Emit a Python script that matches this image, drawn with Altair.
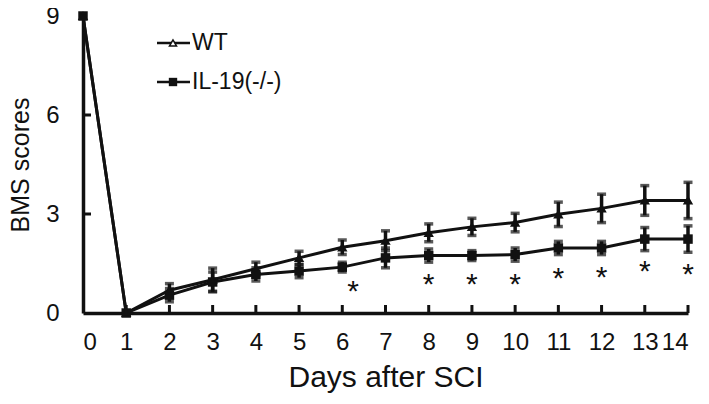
import altair as alt
import pandas as pd

days = list(range(15))
wt = [9, 0, 0.69, 1.01, 1.34, 1.67, 1.99, 2.19, 2.43, 2.61, 2.74, 2.99, 3.17, 3.41, 3.41]
wt_err = [0, 0, 0.2, 0.35, 0.2, 0.2, 0.22, 0.3, 0.27, 0.26, 0.28, 0.37, 0.43, 0.45, 0.55]
il = [9, 0, 0.54, 0.94, 1.17, 1.27, 1.39, 1.67, 1.74, 1.74, 1.77, 1.97, 1.97, 2.24, 2.24]
il_err = [0, 0, 0.2, 0.3, 0.2, 0.2, 0.15, 0.3, 0.2, 0.15, 0.2, 0.2, 0.2, 0.35, 0.4]
star_x = [6.25, 8, 9, 10, 11, 12, 13, 14]
star_y = [0.84, 1.05, 1.05, 1.05, 1.24, 1.27, 1.44, 1.37]
x_ticks = list(range(1, 15))
y_ticks = [3, 6]
legend_labels = ["WT", "IL-19(-/-)"]

FONT = "Liberation Sans"
INK = "#111111"

rows = []
for d, v, e in zip(days, wt, wt_err):
    rows.append({"day": d, "score": v, "lo": v - e, "hi": v + e, "group": "WT"})
for d, v, e in zip(days, il, il_err):
    rows.append({"day": d, "score": v, "lo": v - e, "hi": v + e, "group": "IL-19(-/-)"})
df = pd.DataFrame(rows)
err_df = df[df["hi"] > df["lo"]]

xs = alt.Scale(domain=[0, 14], nice=False, zero=False)
ys = alt.Scale(domain=[0, 9], nice=False)

X = alt.X("day:Q", scale=xs,
          axis=alt.Axis(values=days, format="d", ticks=False, grid=False,
                        domainColor=INK, domainWidth=3.5, labelFontSize=24,
                        labelFont=FONT, labelColor=INK, labelPadding=17,
                        title="Days after SCI", titleFontSize=30, titleFont=FONT,
                        titleFontWeight="normal", titleColor=INK, titlePadding=8))
Y = alt.Y("score:Q", scale=ys,
          axis=alt.Axis(values=[0, 3, 6, 9], ticks=False, grid=False,
                        domainColor=INK, domainWidth=3.5, labelFontSize=24,
                        labelFont=FONT, labelColor=INK, labelPadding=24,
                        title="BMS scores", titleFontSize=25, titleFont=FONT,
                        titleFontWeight="normal", titleColor=INK, titleX=-50))

base = alt.Chart(df)

lines = base.mark_line(color=INK, strokeWidth=3).encode(
    x=X, y=Y, detail="group:N")

err = alt.Chart(err_df).mark_rule(color=INK, strokeWidth=3.5).encode(
    x=alt.X("day:Q", scale=xs), y=alt.Y("lo:Q", scale=ys), y2="hi:Q")
cap_hi = alt.Chart(err_df).mark_tick(color=INK, thickness=3.5, size=9, orient="horizontal").encode(
    x=alt.X("day:Q", scale=xs), y=alt.Y("hi:Q", scale=ys))
cap_lo = alt.Chart(err_df).mark_tick(color=INK, thickness=3.5, size=9, orient="horizontal").encode(
    x=alt.X("day:Q", scale=xs), y=alt.Y("lo:Q", scale=ys))

pts_il = alt.Chart(df[df["group"] == "IL-19(-/-)"]).mark_point(
    shape="square", filled=True, color=INK, size=90, opacity=1).encode(
    x=alt.X("day:Q", scale=xs), y=alt.Y("score:Q", scale=ys))
pts_wt = alt.Chart(df[df["group"] == "WT"]).mark_point(
    shape="triangle-up", filled=True, fill=INK, stroke=INK, strokeWidth=1.5,
    size=60, opacity=1).encode(
    x=alt.X("day:Q", scale=xs), y=alt.Y("score:Q", scale=ys))

stars = alt.Chart(pd.DataFrame({"x": star_x, "y": star_y})).mark_text(
    text="*", font=FONT, fontSize=30, color=INK, baseline="middle", dy=7).encode(
    x=alt.X("x:Q", scale=xs), y=alt.Y("y:Q", scale=ys))

xt = alt.Chart(pd.DataFrame({"x": x_ticks})).mark_rule(color=INK, strokeWidth=3).encode(
    x=alt.X("x:Q", scale=xs), y=alt.value(297), y2=alt.value(289))
yt = alt.Chart(pd.DataFrame({"y": y_ticks})).mark_rule(color=INK, strokeWidth=3).encode(
    y=alt.Y("y:Q", scale=ys), x=alt.value(0), x2=alt.value(8))

# manual legend
leg_layers = []
for i, (lab, yy) in enumerate(zip(legend_labels, [27, 66])):
    one = pd.DataFrame({"label": [lab]})
    leg_layers.append(alt.Chart(one).mark_rule(color=INK, strokeWidth=2.5).encode(
        x=alt.value(74), x2=alt.value(107), y=alt.value(yy)))
    if i == 0:
        leg_layers.append(alt.Chart(one).mark_point(
            shape="triangle-up", filled=True, fill="white", stroke=INK, strokeWidth=1.5,
            size=50, opacity=1).encode(x=alt.value(90), y=alt.value(yy)))
    else:
        leg_layers.append(alt.Chart(one).mark_point(
            shape="square", filled=True, color=INK, size=70, opacity=1).encode(
            x=alt.value(90), y=alt.value(yy)))
    leg_layers.append(alt.Chart(one).mark_text(
        font=FONT, fontSize=23, color=INK, align="left", baseline="middle").encode(
        x=alt.value(109), y=alt.value(yy), text="label:N"))

chart = alt.layer(
    lines, err, cap_hi, cap_lo, pts_il, pts_wt, stars, xt, yt, *leg_layers
).properties(
    width=605, height=297,
    autosize=alt.AutoSizeParams(type="none"),
    padding={"left": 75, "top": 8, "right": 12, "bottom": 90},
    background="white",
).configure_view(stroke=None)

chart.save("out.html", embed_options={"renderer": "svg", "actions": False})
